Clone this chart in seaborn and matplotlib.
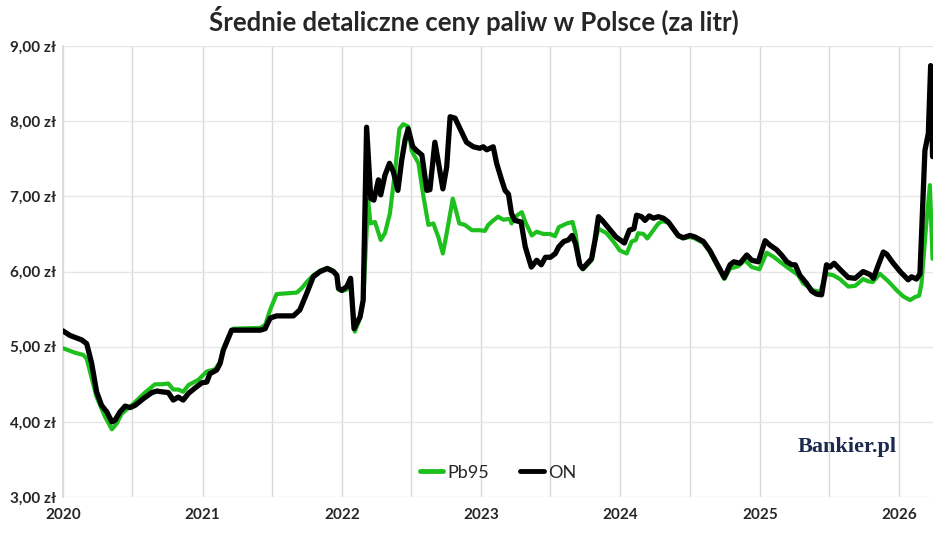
#!/usr/bin/env python3

import matplotlib
matplotlib.use('Agg')
import matplotlib.pyplot as plt     # plotting
import matplotlib.dates as mdates
from matplotlib.ticker import FuncFormatter
import seaborn as sns               # plotting
import pandas as pd                 # handling data

# Pb95 - average retail price per litre
pb95_dates = [
    '2020-01-01', '2020-02-01', '2020-02-23', '2020-03-03', '2020-03-29', '2020-04-20',
    '2020-05-08', '2020-05-21', '2020-06-03', '2020-06-29', '2020-08-03', '2020-08-29',
    '2020-09-16', '2020-10-03', '2020-10-16', '2020-10-29', '2020-11-11', '2020-11-25',
    '2020-12-21', '2021-01-12', '2021-02-03', '2021-02-16', '2021-02-24', '2021-03-09',
    '2021-03-23', '2021-06-01', '2021-06-14', '2021-06-27', '2021-07-14', '2021-09-05',
    '2021-09-18', '2021-10-01', '2021-10-18', '2021-11-05', '2021-11-24', '2021-12-10',
    '2021-12-19', '2021-12-23', '2022-01-01', '2022-01-14', '2022-01-24', '2022-02-04',
    '2022-02-18', '2022-02-26', '2022-03-11', '2022-03-17', '2022-03-29', '2022-04-13',
    '2022-04-24', '2022-05-07', '2022-05-21', '2022-06-01', '2022-06-11', '2022-06-24',
    '2022-07-03', '2022-07-21', '2022-08-03', '2022-08-16', '2022-08-29', '2022-09-11',
    '2022-09-23', '2022-10-03', '2022-10-19', '2022-10-27', '2022-11-05', '2022-11-20',
    '2022-12-08', '2022-12-29', '2023-01-11', '2023-01-20', '2023-02-02', '2023-02-15',
    '2023-02-28', '2023-03-18', '2023-03-22', '2023-04-06', '2023-04-18', '2023-04-27',
    '2023-05-14', '2023-05-27', '2023-06-13', '2023-07-01', '2023-07-14', '2023-07-24',
    '2023-08-14', '2023-08-29', '2023-09-06', '2023-09-17', '2023-09-25', '2023-10-07',
    '2023-10-18', '2023-10-27', '2023-11-05', '2023-11-26', '2023-12-14', '2023-12-31',
    '2024-01-18', '2024-01-31', '2024-02-11', '2024-02-17', '2024-03-02', '2024-03-12',
    '2024-03-28', '2024-04-10', '2024-04-21', '2024-05-06', '2024-05-19', '2024-06-01',
    '2024-06-14', '2024-07-02', '2024-07-15', '2024-08-06', '2024-08-23', '2024-09-10',
    '2024-09-30', '2024-10-15', '2024-11-05', '2024-11-23', '2024-12-11', '2024-12-31',
    '2025-01-19', '2025-02-05', '2025-02-23', '2025-03-13', '2025-03-30', '2025-04-12',
    '2025-04-25', '2025-05-08', '2025-05-21', '2025-06-08', '2025-06-25', '2025-07-13',
    '2025-07-30', '2025-08-21', '2025-09-08', '2025-09-29', '2025-10-12', '2025-10-24',
    '2025-11-12', '2025-12-04', '2025-12-26', '2026-01-12', '2026-01-30', '2026-02-12',
    '2026-02-23', '2026-03-01', '2026-03-13', '2026-03-23', '2026-03-30',
]
pb95_prices = [
    4.98, 4.92, 4.89, 4.84, 4.33, 4.07,
    3.90, 3.98, 4.11, 4.22, 4.39, 4.50,
    4.50, 4.51, 4.43, 4.43, 4.40, 4.49,
    4.56, 4.67, 4.70, 4.80, 4.97, 5.13,
    5.24, 5.25, 5.29, 5.49, 5.70, 5.72,
    5.78, 5.86, 5.95, 6.01, 6.05, 6.01,
    5.95, 5.76, 5.74, 5.76, 5.88, 5.20,
    5.38, 5.60, 6.95, 6.64, 6.66, 6.42,
    6.51, 6.77, 7.35, 7.90, 7.96, 7.93,
    7.61, 7.44, 7.00, 6.62, 6.64, 6.46,
    6.24, 6.51, 6.97, 6.82, 6.64, 6.62,
    6.55, 6.55, 6.54, 6.62, 6.68, 6.73,
    6.69, 6.70, 6.64, 6.75, 6.79, 6.66,
    6.48, 6.53, 6.50, 6.50, 6.47, 6.59,
    6.64, 6.66, 6.50, 6.09, 6.03, 6.09,
    6.15, 6.40, 6.57, 6.51, 6.40, 6.28,
    6.24, 6.40, 6.42, 6.51, 6.50, 6.44,
    6.55, 6.64, 6.67, 6.65, 6.56, 6.47,
    6.44, 6.46, 6.44, 6.38, 6.26, 6.09,
    5.90, 6.04, 6.07, 6.15, 6.06, 6.03,
    6.25, 6.20, 6.13, 6.06, 6.00, 5.95,
    5.84, 5.80, 5.75, 5.73, 5.97, 5.95,
    5.90, 5.80, 5.81, 5.90, 5.87, 5.86,
    5.97, 5.87, 5.75, 5.67, 5.62, 5.66,
    5.68, 5.84, 6.60, 7.15, 6.17,
]

# ON (diesel) - average retail price per litre
on_dates = [
    '2020-01-01', '2020-01-19', '2020-02-19', '2020-03-03', '2020-03-16', '2020-03-29',
    '2020-04-11', '2020-04-25', '2020-05-08', '2020-05-16', '2020-05-29', '2020-06-12',
    '2020-06-25', '2020-07-08', '2020-07-30', '2020-08-21', '2020-09-03', '2020-09-16',
    '2020-10-03', '2020-10-16', '2020-10-29', '2020-11-11', '2020-11-25', '2020-12-12',
    '2020-12-30', '2021-01-12', '2021-01-20', '2021-02-07', '2021-02-16', '2021-02-24',
    '2021-03-09', '2021-03-18', '2021-06-01', '2021-06-14', '2021-06-27', '2021-07-14',
    '2021-08-27', '2021-09-13', '2021-10-01', '2021-10-18', '2021-11-05', '2021-11-24',
    '2021-12-10', '2021-12-19', '2021-12-23', '2022-01-01', '2022-01-14', '2022-01-24',
    '2022-02-02', '2022-02-18', '2022-02-26', '2022-03-07', '2022-03-18', '2022-03-26',
    '2022-04-07', '2022-04-13', '2022-04-24', '2022-05-06', '2022-05-16', '2022-05-28',
    '2022-06-07', '2022-06-16', '2022-06-24', '2022-07-06', '2022-07-16', '2022-07-30',
    '2022-08-12', '2022-08-20', '2022-09-02', '2022-09-11', '2022-09-23', '2022-10-03',
    '2022-10-12', '2022-10-25', '2022-11-07', '2022-11-24', '2022-12-12', '2022-12-29',
    '2023-01-07', '2023-01-16', '2023-02-02', '2023-02-11', '2023-02-24', '2023-03-05',
    '2023-03-14', '2023-03-22', '2023-03-31', '2023-04-16', '2023-04-27', '2023-05-13',
    '2023-05-27', '2023-06-08', '2023-06-19', '2023-07-02', '2023-07-15', '2023-07-24',
    '2023-08-06', '2023-08-18', '2023-08-28', '2023-09-06', '2023-09-17', '2023-09-25',
    '2023-10-07', '2023-10-18', '2023-10-27', '2023-11-05', '2023-11-15', '2023-12-03',
    '2023-12-21', '2024-01-12', '2024-01-25', '2024-02-06', '2024-02-13', '2024-02-26',
    '2024-03-06', '2024-03-17', '2024-03-28', '2024-04-10', '2024-04-23', '2024-05-06',
    '2024-05-19', '2024-06-01', '2024-06-14', '2024-07-02', '2024-07-15', '2024-08-06',
    '2024-08-23', '2024-09-10', '2024-09-30', '2024-10-15', '2024-10-25', '2024-11-10',
    '2024-11-28', '2024-12-11', '2024-12-28', '2025-01-15', '2025-01-28', '2025-02-14',
    '2025-02-27', '2025-03-13', '2025-03-26', '2025-04-04', '2025-04-16', '2025-05-04',
    '2025-05-17', '2025-05-30', '2025-06-12', '2025-06-25', '2025-07-04', '2025-07-15',
    '2025-07-30', '2025-08-21', '2025-09-08', '2025-09-29', '2025-10-17', '2025-10-26',
    '2025-11-08', '2025-11-21', '2025-11-30', '2025-12-17', '2026-01-04', '2026-01-25',
    '2026-02-03', '2026-02-16', '2026-02-25', '2026-03-10', '2026-03-19', '2026-03-25',
    '2026-03-30',
]
on_prices = [
    5.21, 5.15, 5.09, 5.04, 4.78, 4.40,
    4.22, 4.13, 4.00, 4.02, 4.13, 4.21,
    4.19, 4.22, 4.31, 4.39, 4.41, 4.40,
    4.39, 4.29, 4.33, 4.29, 4.38, 4.45,
    4.52, 4.53, 4.64, 4.69, 4.78, 4.95,
    5.11, 5.22, 5.22, 5.24, 5.38, 5.41,
    5.41, 5.49, 5.71, 5.93, 6.00, 6.04,
    6.00, 5.95, 5.78, 5.75, 5.80, 5.91,
    5.24, 5.40, 5.62, 7.92, 6.97, 6.95,
    7.22, 7.02, 7.28, 7.44, 7.33, 7.08,
    7.48, 7.75, 7.90, 7.66, 7.61, 7.55,
    7.08, 7.09, 7.72, 7.46, 7.10, 7.39,
    8.06, 8.04, 7.90, 7.72, 7.66, 7.64,
    7.66, 7.62, 7.66, 7.44, 7.22, 7.08,
    7.03, 6.77, 6.68, 6.66, 6.33, 6.06,
    6.15, 6.09, 6.19, 6.19, 6.24, 6.33,
    6.40, 6.42, 6.48, 6.37, 6.09, 6.04,
    6.11, 6.17, 6.42, 6.73, 6.68, 6.57,
    6.46, 6.38, 6.55, 6.57, 6.75, 6.73,
    6.68, 6.74, 6.71, 6.73, 6.71, 6.66,
    6.57, 6.48, 6.45, 6.48, 6.46, 6.40,
    6.28, 6.11, 5.92, 6.09, 6.13, 6.11,
    6.22, 6.15, 6.13, 6.41, 6.35, 6.29,
    6.22, 6.13, 6.09, 6.09, 5.95, 5.84,
    5.74, 5.70, 5.69, 6.09, 6.06, 6.11,
    6.03, 5.92, 5.91, 6.00, 5.96, 5.91,
    6.09, 6.26, 6.23, 6.11, 6.00, 5.89,
    5.93, 5.90, 5.97, 7.61, 7.84, 8.74,
    7.53,
]

year_ticks = ['2020', '2021', '2022', '2023', '2024', '2025', '2026']
price_ticks = [3, 4, 5, 6, 7, 8, 9]

GREEN = '#1ec01e'
BLACK = '#000000'


def pln(v, pos):
    return f'{v:.2f} zł'.replace('.', ',')


def main():
    sns.set_theme(style='white')
    plt.rcParams['font.family'] = ['Lato', 'DejaVu Sans']

    pb95 = pd.DataFrame({'date': pd.to_datetime(pb95_dates), 'price': pb95_prices})
    on = pd.DataFrame({'date': pd.to_datetime(on_dates), 'price': on_prices})

    fig = plt.figure(figsize=(9.48, 5.42), dpi=100)
    ax = fig.add_axes([0.0665, 0.083, 0.918, 0.832])

    sns.lineplot(data=pb95, x='date', y='price', color=GREEN, linewidth=3.0,
                 label='Pb95', ax=ax, zorder=3)
    sns.lineplot(data=on, x='date', y='price', color=BLACK, linewidth=3.8,
                 label='ON', ax=ax, zorder=4)

    ax.set_xlim(pd.Timestamp('2020-01-01'), pd.Timestamp('2026-04-01'))
    ax.set_ylim(3, 9)
    ax.set_yticks(price_ticks)
    ax.yaxis.set_major_formatter(FuncFormatter(pln))

    # half-year gridlines, labels only at year start
    ax.xaxis.set_major_locator(mdates.YearLocator())
    ax.xaxis.set_major_formatter(mdates.DateFormatter('%Y'))
    ax.xaxis.set_minor_locator(mdates.MonthLocator(bymonth=7))
    ax.grid(True, which='both', axis='x', color='#d9d9d9', linewidth=1.0)
    ax.grid(True, which='major', axis='y', color='#e6e6e6', linewidth=1.0)

    for s in ['top', 'right', 'bottom']:
        ax.spines[s].set_visible(False)
    ax.spines['left'].set_color('#d9d9d9')

    ax.tick_params(axis='both', length=0)
    ax.tick_params(axis='x', pad=8)
    ax.tick_params(axis='y', pad=5)
    for lab in ax.get_xticklabels():
        lab.set_fontsize(11)
        lab.set_fontweight('bold')
    for lab in ax.get_yticklabels():
        lab.set_fontsize(11)
        lab.set_fontweight('bold')

    ax.set_xlabel('')
    ax.set_ylabel('')

    fig.suptitle('Średnie detaliczne ceny paliw w Polsce (za litr)',
                 fontsize=18.5, fontweight='bold', y=0.99)

    leg = ax.legend(loc='lower center', bbox_to_anchor=(0.5, 0.0), ncol=2,
                    frameon=False, fontsize=13, handlelength=1.3,
                    columnspacing=1.7, handletextpad=0.25)
    for line in leg.get_lines():
        line.set_linewidth(3.5)

    ax.text(0.958, 0.088, 'Bankier.pl', transform=ax.transAxes, ha='right',
            va='bottom', fontsize=16, fontweight='bold', color='#1b2a4e',
            family=['Liberation Serif', 'DejaVu Serif'])

    plt.savefig('out.png', dpi=100)


if __name__ == '__main__':
    main()
